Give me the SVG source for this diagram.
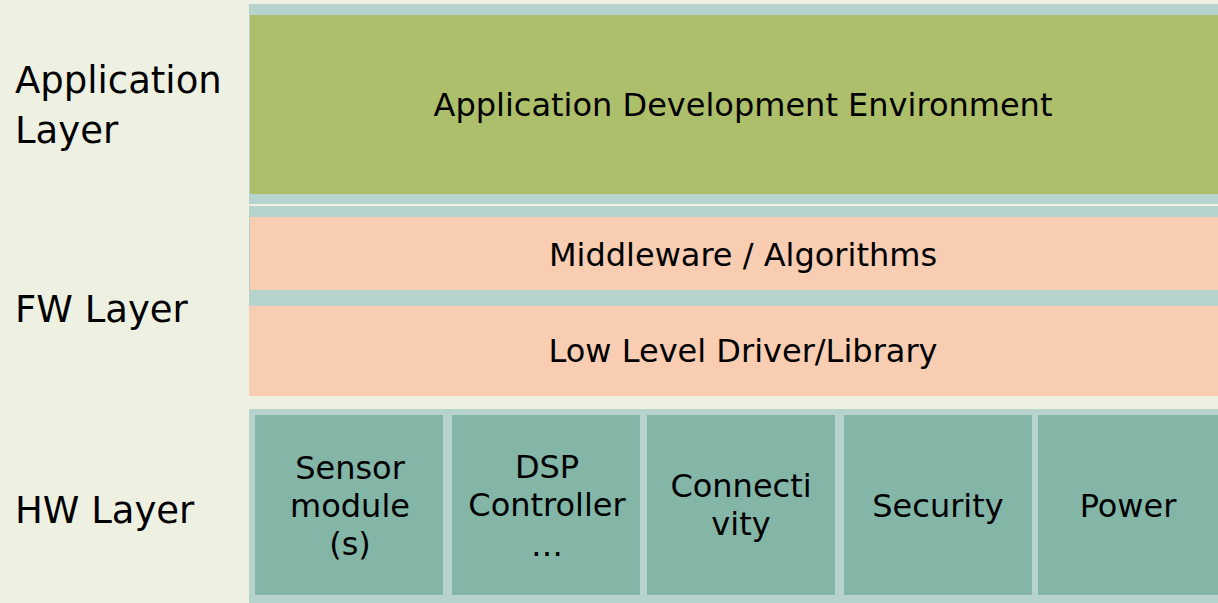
<svg xmlns="http://www.w3.org/2000/svg" width="1218" height="603" viewBox="0 0 1218 603">
<style>
text{font-family:"DejaVu Sans","Verdana",sans-serif;fill:#000;text-anchor:middle}
.lbl{text-anchor:start;font-size:37px}
.t{font-size:32px}
.band{fill:#B6D3CD}
.fw{fill:#F8CDB2}
.hw{fill:#83B6A7}
</style>
<rect x="0" y="0" width="1218" height="603" fill="#EEF1E2"/>
<g id="labels">
<text class="lbl" x="15" y="93">Application</text>
<text class="lbl" x="15" y="143">Layer</text>
<text class="lbl" x="15" y="322">FW Layer</text>
<text class="lbl" x="15" y="523">HW Layer</text>
</g>
<g id="app-layer">
<rect class="band" x="249" y="4" width="969" height="200"/>
<rect x="250" y="15" width="968" height="179" fill="#ADBF6A"/>
<text class="t" x="743" y="116">Application Development Environment</text>
</g>
<g id="fw-layer">
<rect class="band" x="249" y="206" width="969" height="190"/>
<g id="middleware">
<rect class="fw" x="250" y="217" width="968" height="73"/>
<text class="t" x="743" y="266">Middleware / Algorithms</text>
</g>
<g id="driver">
<rect class="fw" x="249" y="306" width="969" height="90"/>
<text class="t" x="743" y="362">Low Level Driver/Library</text>
</g>
</g>
<g id="hw-layer">
<rect class="band" x="249" y="409" width="969" height="194"/>
<g id="sensor">
<rect class="hw" x="255" y="415" width="188" height="180"/>
<text class="t" x="350" y="479">Sensor</text>
<text class="t" x="350" y="517">module</text>
<text class="t" x="350" y="555">(s)</text>
</g>
<g id="dsp">
<rect class="hw" x="452" y="415" width="188" height="180"/>
<text class="t" x="547" y="478">DSP</text>
<text class="t" x="547" y="516">Controller</text>
<text class="t" x="547" y="556" font-size="26">…</text>
</g>
<g id="connectivity">
<rect class="hw" x="647" y="415" width="188" height="180"/>
<text class="t" x="741" y="497">Connecti</text>
<text class="t" x="741" y="535">vity</text>
</g>
<g id="security">
<rect class="hw" x="844" y="415" width="188" height="180"/>
<text class="t" x="938" y="517">Security</text>
</g>
<g id="power">
<rect class="hw" x="1038" y="415" width="180" height="180"/>
<text class="t" x="1128" y="517">Power</text>
</g>
</g>
<g id="connectors"/>
</svg>
